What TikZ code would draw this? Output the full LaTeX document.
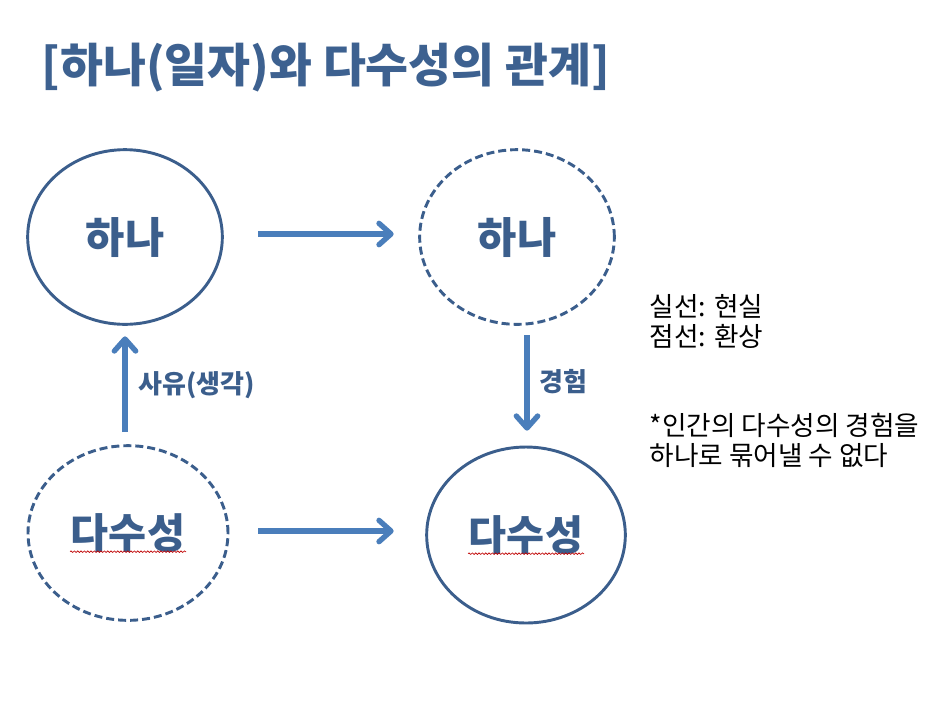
\documentclass[tikz,border=0pt]{standalone}
\usepackage{fontspec}
\setmainfont{Noto Sans CJK KR}
\usetikzlibrary{arrows.meta,decorations.pathmorphing,shapes.geometric}
\definecolor{circ}{HTML}{3B5E8C}
\definecolor{arr}{HTML}{4A7EBB}
\definecolor{ttl}{HTML}{3D6190}
\tikzset{
  real/.style={ellipse, draw=circ, line width=2.2pt, minimum width=146pt, minimum height=131pt, inner sep=0pt, text=circ, font=\fontsize{32}{36}\selectfont\bfseries},
  fancy/.style={real, dashed, dash pattern=on 6pt off 3pt},
  flow/.style={draw=arr, line width=4pt, -{Straight Barb[round,length=9pt,width=16pt,line width=4pt]}, shorten >=1pt},
  lbl/.style={text=circ, font=\fontsize{19.5}{22}\selectfont\bfseries},
  note/.style={text=black, align=left, anchor=north west, font=\fontsize{20}{22.5}\selectfont},
  squig/.style={draw=red!75!black, line width=0.5pt, decorate, decoration={snake, amplitude=0.6pt, segment length=2.5pt}}
}
\begin{document}
\begin{tikzpicture}[x=0.75pt,y=-0.75pt]
\useasboundingbox (0,0) rectangle (937,701);
\node[anchor=west, text=ttl, font=\fontsize{35}{40}\selectfont\bfseries] (title) at (37,68) {[하나(일자)와 다수성의 관계]};
\node[real]  (a) at (125,237) {하나};
\node[fancy] (b) at (517,237) {하나};
\node[fancy, minimum width=150pt, minimum height=131pt, font=\fontsize{31}{36}\selectfont\bfseries] (c) at (128,533) {다수성};
\node[real, minimum width=149pt, minimum height=132pt, font=\fontsize{31}{36}\selectfont\bfseries] (d) at (526,535) {다수성};
\draw[flow] (258,234) coordinate (t1) -- (395,234) coordinate (t2);
\draw[flow] (258,531) coordinate (b1) -- (395,531) coordinate (b2);
\draw[flow] (125,432) coordinate (l1) -- (125,335) coordinate (l2);
\draw[flow] (527,335) coordinate (r1) -- (527,432) coordinate (r2);
\node[lbl, anchor=west] (la) at (134,385) {사유(생각)};
\node[lbl, anchor=west] (lb) at (535,382) {경험};
\node[note] (n1) at (645,290) {실선: 현실\\점선: 환상};
\node[note] (n2) at (645,409) {*인간의 다수성의 경험을\\하나로 묶어낼 수 없다};
\draw[squig] ([yshift=-14pt]c.center) ++(-58,0) coordinate (s1) -- ++(116,0);
\draw[squig] ([yshift=-14pt]d.center) ++(-58,0) coordinate (s2) -- ++(116,0);
\end{tikzpicture}
\end{document}
